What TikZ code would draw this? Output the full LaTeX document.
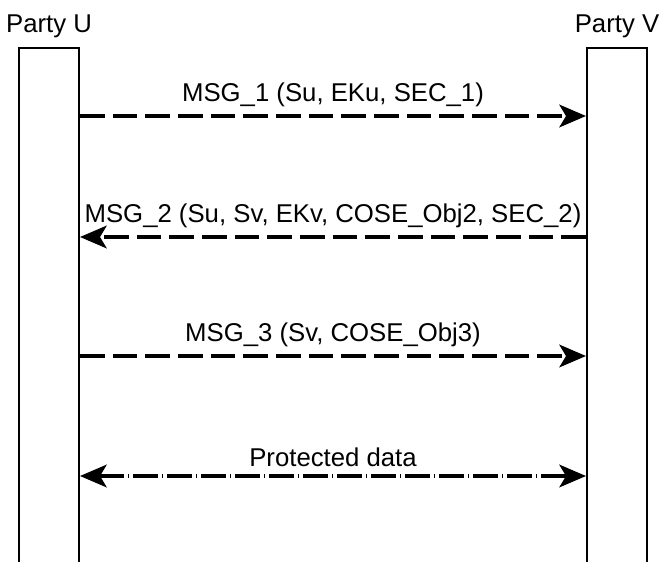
\documentclass[tikz,border=0pt]{standalone}
\usepackage{fontspec}
\setmainfont{Liberation Sans}
\usetikzlibrary{arrows.meta,positioning}
\tikzset{
  lifebox/.style={draw,line width=1.5pt,minimum width=45pt,minimum height=400pt,
    anchor=north,inner sep=0pt},
  partyname/.style={font=\fontsize{19.3}{22}\selectfont,inner sep=0pt},
  msglabel/.style={font=\fontsize{19.3}{22}\selectfont,inner sep=0pt,above=6pt},
  msg/.style={line width=2.5pt,dash pattern=on 18.5pt off 6pt,-{Stealth[length=20pt,width=17pt,inset=5pt]}},
  protected/.style={line width=2.5pt,dash pattern=on 18.5pt off 3pt on 1pt off 3pt,
    {Stealth[length=20pt,width=17pt,inset=5pt]}-{Stealth[length=20pt,width=17pt,inset=5pt]}}
}

\begin{document}
\begin{tikzpicture}[x=0.75pt,y=-0.75pt]
  \useasboundingbox (0,0) rectangle (659,561);
  \clip (0,0) rectangle (659,561);

  % the two parties
  \node[lifebox] (partyU) at (49,47) {};
  \node[lifebox] (partyV) at (617,47) {};
  \node[partyname,above=7pt of partyU] {Party U};
  \node[partyname,above=7pt of partyV] {Party V};

  % message levels
  \coordinate (m1) at (0,116);
  \coordinate (m2) at (0,237);
  \coordinate (m3) at (0,356);
  \coordinate (m4) at (0,476);

  \draw[msg] (partyU.east |- m1) -- (partyV.west |- m1)
    node[midway,msglabel] {MSG\_1 (Su, EKu, SEC\_1)};
  \draw[msg] (partyV.west |- m2) -- (partyU.east |- m2)
    node[midway,msglabel] {MSG\_2 (Su, Sv, EKv, COSE\_Obj2, SEC\_2)};
  \draw[msg] (partyU.east |- m3) -- (partyV.west |- m3)
    node[midway,msglabel] {MSG\_3 (Sv, COSE\_Obj3)};
  \draw[protected] (partyU.east |- m4) -- (partyV.west |- m4)
    node[midway,msglabel] {Protected data};
\end{tikzpicture}
\end{document}
